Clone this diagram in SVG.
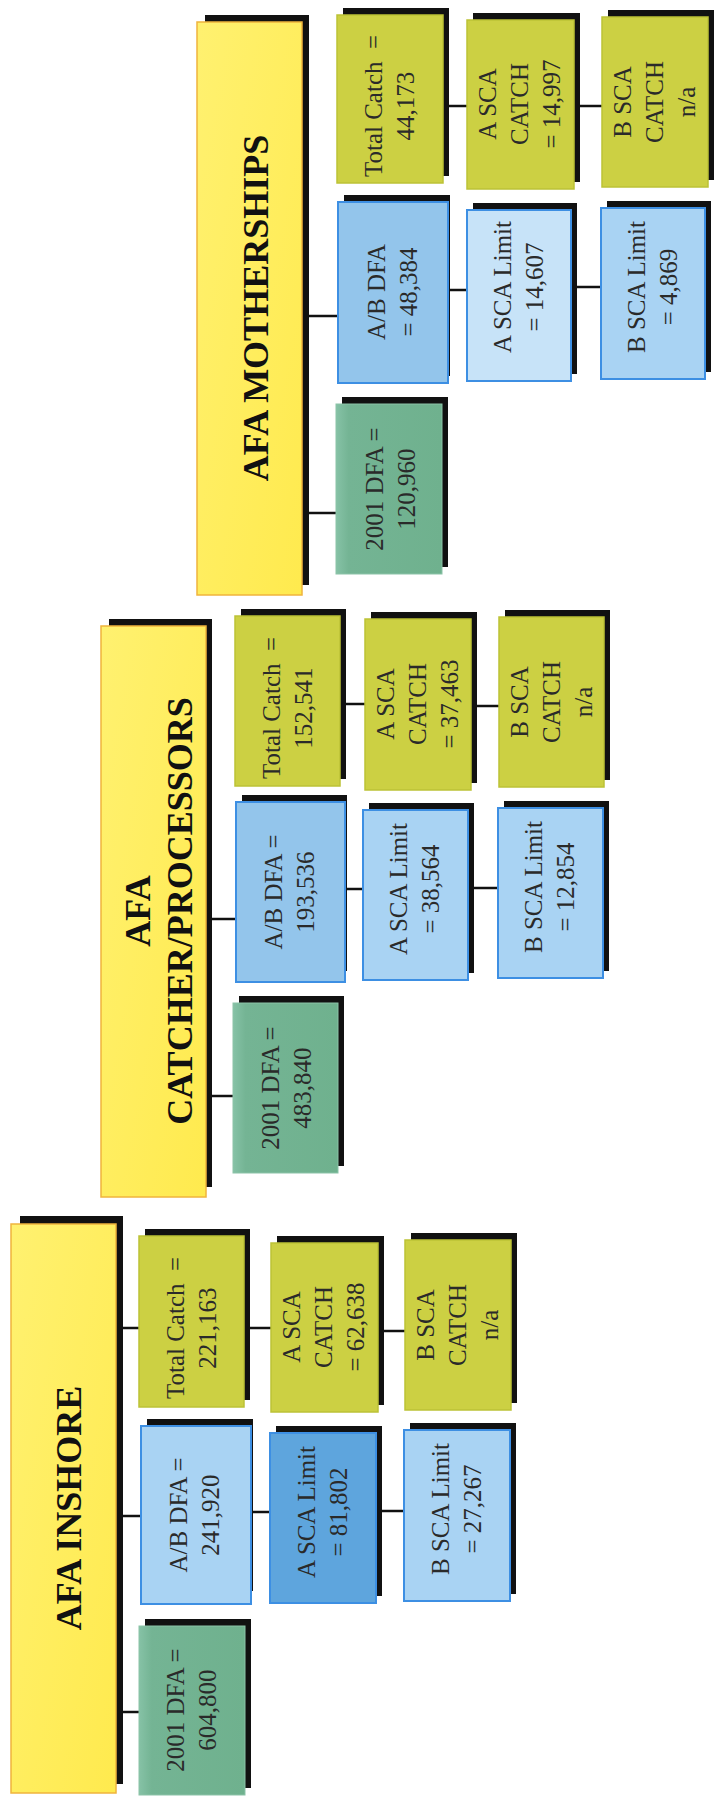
<svg xmlns="http://www.w3.org/2000/svg" width="715" height="1800" viewBox="0 0 715 1800">
<defs>
<linearGradient id="gHead" x1="0" y1="0" x2="1" y2="1">
<stop offset="0" stop-color="#FFF170"/>
<stop offset="1" stop-color="#FFEA4E"/>
</linearGradient>
<linearGradient id="gGreen" x1="0" y1="0" x2="1" y2="0">
<stop offset="0" stop-color="#86C2A6"/>
<stop offset="0.12" stop-color="#74B494"/>
<stop offset="1" stop-color="#6FB18E"/>
</linearGradient>
<style>
.sh{fill:#111111}
.hd{fill:url(#gHead);stroke:#F0B43C;stroke-width:1.5}
.ol{fill:#CCD043;stroke:#BCC236;stroke-width:1.5}
.bl{fill:#93C5EB;stroke:#3D8FE3;stroke-width:2}
.lb{fill:#A9D3F3;stroke:#3D8FE3;stroke-width:2}
.vl{fill:#C7E3F8;stroke:#3D8FE3;stroke-width:2}
.db{fill:#5EA5DD;stroke:#3D8FE3;stroke-width:2}
.gr{fill:url(#gGreen);stroke:#8CC3A8;stroke-width:1}
.ht{font-family:"Liberation Serif","Times New Roman",serif;font-weight:bold;font-size:36px;fill:#111111;text-anchor:middle}
.bt{font-family:"Liberation Serif","Times New Roman",serif;font-size:25px;fill:#2A2A2A;text-anchor:middle}
.cn{stroke:#111111;stroke-width:2.5;fill:none}
</style>
</defs>
<rect width="715" height="1800" fill="#FFFFFF"/>

<g id="connectors">
<line class="cn" x1="305" y1="316" x2="338" y2="316"/>
<line class="cn" x1="305" y1="513" x2="336" y2="513"/>
<line class="cn" x1="443" y1="106" x2="467" y2="106"/>
<line class="cn" x1="574" y1="106" x2="602" y2="106"/>
<line class="cn" x1="448" y1="290" x2="467" y2="290"/>
<line class="cn" x1="571" y1="287" x2="601" y2="287"/>
<line class="cn" x1="209" y1="919" x2="236" y2="919"/>
<line class="cn" x1="209" y1="1096" x2="233" y2="1096"/>
<line class="cn" x1="340" y1="704" x2="365" y2="704"/>
<line class="cn" x1="471" y1="706" x2="499" y2="706"/>
<line class="cn" x1="345" y1="889" x2="363" y2="889"/>
<line class="cn" x1="468" y1="888" x2="498" y2="888"/>
<line class="cn" x1="119" y1="1328" x2="139" y2="1328"/>
<line class="cn" x1="119" y1="1516" x2="141" y2="1516"/>
<line class="cn" x1="119" y1="1712" x2="139" y2="1712"/>
<line class="cn" x1="244" y1="1328" x2="271" y2="1328"/>
<line class="cn" x1="378" y1="1331" x2="405" y2="1331"/>
<line class="cn" x1="251" y1="1512" x2="270" y2="1512"/>
<line class="cn" x1="376" y1="1511" x2="404" y2="1511"/>
</g>

<g id="ms-header">
<rect class="sh" x="205" y="15" width="104" height="570"/>
<rect class="hd" x="197" y="22" width="105" height="573"/>
<text class="ht" transform="translate(250,308) rotate(-90)" x="0" y="18">AFA MOTHERSHIPS</text>
</g>
<g id="ms-total">
<rect class="sh" x="343" y="8" width="106" height="168"/>
<rect class="ol" x="337" y="15" width="106" height="168"/>
<text class="bt" transform="translate(390,99) rotate(-90)"><tspan x="-7" y="-8">Total Catch&#160; =</tspan><tspan x="-7" y="24">44,173</tspan></text>
</g>
<g id="ms-asca">
<rect class="sh" x="473" y="13" width="107" height="169"/>
<rect class="ol" x="467" y="20" width="107" height="169"/>
<text class="bt" transform="translate(520,104) rotate(-90)"><tspan x="0" y="-24">A SCA</tspan><tspan x="0" y="8">CATCH</tspan><tspan x="0" y="40">= 14,997</tspan></text>
</g>
<g id="ms-bsca">
<rect class="sh" x="608" y="10" width="106" height="170"/>
<rect class="ol" x="602" y="17" width="106" height="170"/>
<text class="bt" transform="translate(655,102) rotate(-90)"><tspan x="0" y="-24">B SCA</tspan><tspan x="0" y="8">CATCH</tspan><tspan x="0" y="40">n/a</tspan></text>
</g>
<g id="ms-abdfa">
<rect class="sh" x="344" y="195" width="106" height="181"/>
<rect class="bl" x="338" y="202" width="110" height="181"/>
<text class="bt" transform="translate(393,292) rotate(-90)"><tspan x="0" y="-8">A/B DFA</tspan><tspan x="0" y="24">= 48,384</tspan></text>
</g>
<g id="ms-asl">
<rect class="sh" x="473" y="203" width="104" height="171"/>
<rect class="vl" x="467" y="210" width="104" height="171"/>
<text class="bt" transform="translate(519,295) rotate(-90)"><tspan x="8" y="-8">A SCA Limit</tspan><tspan x="8" y="24">= 14,607</tspan></text>
</g>
<g id="ms-bsl">
<rect class="sh" x="607" y="201" width="104" height="171"/>
<rect class="lb" x="601" y="208" width="104" height="171"/>
<text class="bt" transform="translate(653,293) rotate(-90)"><tspan x="6" y="-8">B SCA Limit</tspan><tspan x="6" y="24">= 4,869</tspan></text>
</g>
<g id="ms-dfa">
<rect class="sh" x="342" y="397" width="106" height="170"/>
<rect class="gr" x="336" y="404" width="106" height="170"/>
<text class="bt" transform="translate(391,489) rotate(-90)"><tspan x="0" y="-8">2001 DFA =</tspan><tspan x="0" y="24">120,960</tspan></text>
</g>

<g id="cp-header">
<rect class="sh" x="109" y="619" width="103" height="568"/>
<rect class="hd" x="101" y="626" width="105" height="571"/>
<text class="ht" transform="translate(153,911) rotate(-90)"><tspan x="0" y="-3">AFA</tspan><tspan x="0" y="39">CATCHER/PROCESSORS</tspan></text>
</g>
<g id="cp-total">
<rect class="sh" x="241" y="609" width="105" height="170"/>
<rect class="ol" x="235" y="616" width="105" height="170"/>
<text class="bt" transform="translate(288,701) rotate(-90)"><tspan x="-7" y="-8">Total Catch&#160; =</tspan><tspan x="-7" y="24">152,541</tspan></text>
</g>
<g id="cp-asca">
<rect class="sh" x="371" y="612" width="106" height="171"/>
<rect class="ol" x="365" y="619" width="106" height="171"/>
<text class="bt" transform="translate(418,704) rotate(-90)"><tspan x="0" y="-24">A SCA</tspan><tspan x="0" y="8">CATCH</tspan><tspan x="0" y="40">= 37,463</tspan></text>
</g>
<g id="cp-bsca">
<rect class="sh" x="505" y="610" width="105" height="170"/>
<rect class="ol" x="499" y="617" width="105" height="170"/>
<text class="bt" transform="translate(552,702) rotate(-90)"><tspan x="0" y="-24">B SCA</tspan><tspan x="0" y="8">CATCH</tspan><tspan x="0" y="40">n/a</tspan></text>
</g>
<g id="cp-abdfa">
<rect class="sh" x="242" y="795" width="105" height="176"/>
<rect class="bl" x="236" y="802" width="109" height="180"/>
<text class="bt" transform="translate(290,892) rotate(-90)"><tspan x="0" y="-8">A/B DFA =</tspan><tspan x="0" y="24">193,536</tspan></text>
</g>
<g id="cp-asl">
<rect class="sh" x="369" y="803" width="105" height="170"/>
<rect class="lb" x="363" y="810" width="105" height="170"/>
<text class="bt" transform="translate(415,895) rotate(-90)"><tspan x="6" y="-8">A SCA Limit</tspan><tspan x="6" y="24">= 38,564</tspan></text>
</g>
<g id="cp-bsl">
<rect class="sh" x="504" y="801" width="105" height="170"/>
<rect class="lb" x="498" y="808" width="105" height="170"/>
<text class="bt" transform="translate(550,893) rotate(-90)"><tspan x="6" y="-8">B SCA Limit</tspan><tspan x="6" y="24">= 12,854</tspan></text>
</g>
<g id="cp-dfa">
<rect class="sh" x="239" y="996" width="105" height="170"/>
<rect class="gr" x="233" y="1003" width="105" height="170"/>
<text class="bt" transform="translate(287,1088) rotate(-90)"><tspan x="0" y="-8">2001 DFA =</tspan><tspan x="0" y="24">483,840</tspan></text>
</g>

<g id="in-header">
<rect class="sh" x="20" y="1216" width="103" height="568"/>
<rect class="hd" x="11" y="1224" width="105" height="569"/>
<text class="ht" transform="translate(63,1508) rotate(-90)" x="0" y="18">AFA INSHORE</text>
</g>
<g id="in-total">
<rect class="sh" x="145" y="1229" width="105" height="171"/>
<rect class="ol" x="139" y="1236" width="105" height="171"/>
<text class="bt" transform="translate(192,1321) rotate(-90)"><tspan x="-7" y="-8">Total Catch&#160; =</tspan><tspan x="-7" y="24">221,163</tspan></text>
</g>
<g id="in-asca">
<rect class="sh" x="277" y="1236" width="107" height="169"/>
<rect class="ol" x="271" y="1243" width="107" height="169"/>
<text class="bt" transform="translate(324,1327) rotate(-90)"><tspan x="0" y="-24">A SCA</tspan><tspan x="0" y="8">CATCH</tspan><tspan x="0" y="40">= 62,638</tspan></text>
</g>
<g id="in-bsca">
<rect class="sh" x="411" y="1233" width="106" height="170"/>
<rect class="ol" x="405" y="1240" width="106" height="170"/>
<text class="bt" transform="translate(458,1325) rotate(-90)"><tspan x="0" y="-24">B SCA</tspan><tspan x="0" y="8">CATCH</tspan><tspan x="0" y="40">n/a</tspan></text>
</g>
<g id="in-abdfa">
<rect class="sh" x="147" y="1419" width="106" height="172"/>
<rect class="lb" x="141" y="1426" width="110" height="178"/>
<text class="bt" transform="translate(195,1515) rotate(-90)"><tspan x="0" y="-8">A/B DFA =</tspan><tspan x="0" y="24">241,920</tspan></text>
</g>
<g id="in-asl">
<rect class="sh" x="276" y="1426" width="106" height="170"/>
<rect class="db" x="270" y="1433" width="106" height="170"/>
<text class="bt" transform="translate(323,1518) rotate(-90)"><tspan x="6" y="-8">A SCA Limit</tspan><tspan x="6" y="24">= 81,802</tspan></text>
</g>
<g id="in-bsl">
<rect class="sh" x="410" y="1423" width="106" height="171"/>
<rect class="lb" x="404" y="1430" width="106" height="171"/>
<text class="bt" transform="translate(457,1515) rotate(-90)"><tspan x="6" y="-8">B SCA Limit</tspan><tspan x="6" y="24">= 27,267</tspan></text>
</g>
<g id="in-dfa">
<rect class="sh" x="145" y="1619" width="106" height="169"/>
<rect class="gr" x="139" y="1626" width="106" height="169"/>
<text class="bt" transform="translate(192,1710) rotate(-90)"><tspan x="0" y="-8">2001 DFA =</tspan><tspan x="0" y="24">604,800</tspan></text>
</g>
</svg>
